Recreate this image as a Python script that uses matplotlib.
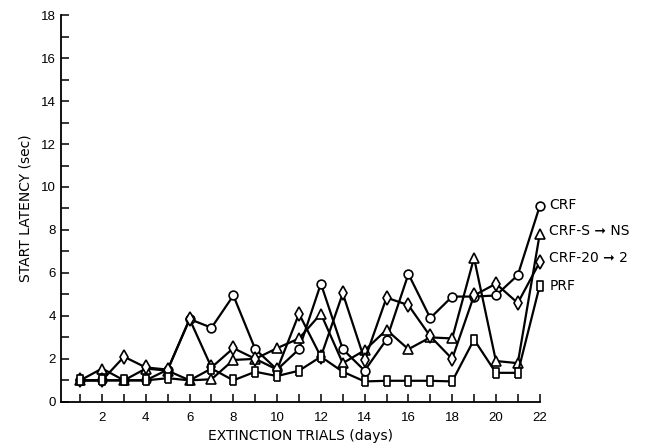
import matplotlib
matplotlib.use("Agg")
import matplotlib.pyplot as plt
from matplotlib.ticker import MultipleLocator

plt.rcParams['font.family'] = ['Liberation Sans', 'DejaVu Sans']

days = list(range(1, 23))
crf = [1.0, 1.0, 1.0, 1.0, 1.5, 3.85, 3.45, 4.95, 2.45, 1.5, 2.45,
       5.5, 2.45, 1.45, 2.9, 5.95, 3.9, 4.9, 4.9, 4.95, 5.9, 9.1]
crf_s_ns = [1.0, 1.55, 1.0, 1.55, 1.45, 1.0, 1.05, 1.95, 2.0, 2.5, 2.95,
            4.1, 1.8, 2.4, 3.35, 2.45, 3.0, 2.95, 6.7, 1.9, 1.8, 7.8]
crf_20_2 = [1.0, 1.0, 2.1, 1.6, 1.5, 3.85, 1.6, 2.5, 2.0, 1.5, 4.1,
            2.1, 5.05, 1.95, 4.85, 4.5, 3.05, 2.0, 4.95, 5.5, 4.6, 6.5]
prf = [1.0, 1.0, 1.0, 1.0, 1.1, 1.0, 1.55, 1.0, 1.4, 1.2, 1.45,
       2.1, 1.4, 0.95, 0.98, 0.98, 0.98, 0.95, 2.9, 1.35, 1.35, 5.4]
labels = ['CRF', 'CRF-S \u279e NS', 'CRF-20 \u279e 2', 'PRF']

# tall thin box for PRF
rect = [(-0.55, -1), (0.55, -1), (0.55, 1), (-0.55, 1), (-0.55, -1)]
markers = ['o', '^', 'd', rect]
sizes = [6.3, 6.5, 7.5, 7.5]
label_dy = [1, 2, 3, 0]

fig = plt.figure(figsize=(6.51, 4.45), dpi=100)
ax = fig.add_axes([0.094, 0.097, 0.735, 0.869])

series = [crf, crf_s_ns, crf_20_2, prf]
for vals, m, ms, lab, dy in zip(series, markers, sizes, labels, label_dy):
    ax.plot(days, vals, color='black', lw=1.6, marker=m, ms=ms,
            mfc='white', mec='black', mew=1.2, clip_on=False, zorder=3)
    ax.annotate(lab, xy=(days[-1], vals[-1]), xytext=(7, dy),
                textcoords='offset points', va='center', ha='left',
                fontsize=10, family='DejaVu Sans', annotation_clip=False)

ax.set_xlim(0.13, 22)
ax.set_ylim(0, 18)
ax.xaxis.set_major_locator(MultipleLocator(2))
ax.xaxis.set_minor_locator(MultipleLocator(1))
ax.yaxis.set_major_locator(MultipleLocator(2))
ax.yaxis.set_minor_locator(MultipleLocator(1))
ax.tick_params(which='both', direction='in', length=6, width=1.1,
               labelsize=9.5, pad=4)
ax.tick_params(axis='x', pad=7)

for s in ['top', 'right']:
    ax.spines[s].set_visible(False)
for s in ['left', 'bottom']:
    ax.spines[s].set_linewidth(1.3)

ax.set_xlabel('EXTINCTION TRIALS (days)', fontsize=10, family='DejaVu Sans',
              labelpad=4)
ax.set_ylabel('START LATENCY (sec)', fontsize=10, family='DejaVu Sans',
              labelpad=6)

fig.savefig('out.png', dpi=100)
